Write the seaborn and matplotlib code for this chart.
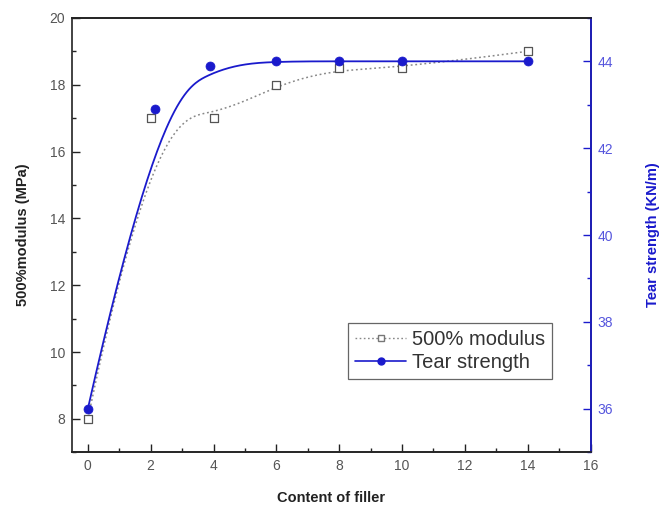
import numpy as np
import pandas as pd
import matplotlib
matplotlib.use("Agg")
import matplotlib.pyplot as plt
from matplotlib.lines import Line2D
from matplotlib.ticker import MultipleLocator
import seaborn as sns

# ---- data ----
filler_mod = [0, 2, 4, 6, 8, 10, 14]
modulus = [8.0, 17.0, 17.0, 18.0, 18.5, 18.5, 19.0]
filler_tear = [0, 2.15, 3.9, 6, 8, 10, 14]
tear = [36.0, 42.9, 43.9, 44.0, 44.0, 44.0, 44.0]

x_ticks = [0, 2, 4, 6, 8, 10, 12, 14, 16]
left_ticks = [8, 10, 12, 14, 16, 18, 20]
right_ticks = [36, 38, 40, 42, 44]

BLUE = "#1a1acc"

sns.set_theme(style="white")
plt.rcParams["font.family"] = ["Liberation Sans", "DejaVu Sans"]


def bspline(xs, ys, n=300, k=3):
    """Clamped B-spline using the data points as control points."""
    P = np.column_stack([xs, ys]).astype(float)
    m = len(P)
    inner = np.linspace(0, 1, m - k + 1)
    knots = np.concatenate([np.zeros(k), inner, np.ones(k)])
    u = np.linspace(0, 1, n)
    u[-1] = 1 - 1e-10

    def basis(i, p, t):
        if p == 0:
            return ((knots[i] <= t) & (t < knots[i + 1])).astype(float)
        a = 0.0
        d1 = knots[i + p] - knots[i]
        if d1 > 0:
            a = (t - knots[i]) / d1 * basis(i, p - 1, t)
        b = 0.0
        d2 = knots[i + p + 1] - knots[i + 1]
        if d2 > 0:
            b = (knots[i + p + 1] - t) / d2 * basis(i + 1, p - 1, t)
        return a + b

    B = np.array([basis(i, k, u) for i in range(m)])
    C = B.T @ P
    return C[:, 0], C[:, 1]


fig = plt.figure(figsize=(6.68, 5.11), dpi=100)
ax = fig.add_axes([0.108, 0.115, 0.776, 0.85])
ax2 = ax.twinx()

df_mod = pd.DataFrame({"x": filler_mod, "y": modulus})
df_tear = pd.DataFrame({"x": filler_tear, "y": tear})

cx, cy = bspline(filler_mod, modulus)
ax.plot(cx, cy, color="#888888", lw=1.1, ls=(0, (1.2, 1.8)), zorder=2)
sns.scatterplot(data=df_mod, x="x", y="y", ax=ax, marker="s", s=40,
                facecolor="white", edgecolor="#555555", linewidth=0.9, zorder=3)

tx, ty = bspline(filler_tear, tear)
ax2.plot(tx, ty, color=BLUE, lw=1.3, zorder=2)
sns.scatterplot(data=df_tear, x="x", y="y", ax=ax2, marker="o", s=42,
                color=BLUE, edgecolor=BLUE, linewidth=0.5, zorder=3)

ax.set_xlim(-0.5, 16)
ax.set_ylim(7, 20)
ax2.set_ylim(35, 45)

ax.set_xticks(x_ticks)
ax.set_yticks(left_ticks)
ax2.set_yticks(right_ticks)
ax.xaxis.set_minor_locator(MultipleLocator(1))
ax.yaxis.set_minor_locator(MultipleLocator(1))
ax2.yaxis.set_minor_locator(MultipleLocator(1))

ax.tick_params(axis="both", which="major", direction="in", length=6, width=1.0,
               labelsize=10, colors="#222222", labelcolor="#555555", pad=5)
ax.tick_params(axis="both", which="minor", direction="in", length=3, width=1.0,
               colors="#222222")
ax.tick_params(axis="x", which="both", top=False)
ax.tick_params(axis="y", which="both", right=False, left=True)
ax.tick_params(axis="x", which="both", bottom=True)
ax2.tick_params(axis="y", which="major", direction="in", length=6, width=1.0,
                labelsize=10, colors=BLUE, labelcolor="#5555dd", pad=5, right=True)
ax2.tick_params(axis="y", which="minor", direction="in", length=3, width=1.0,
                colors=BLUE, right=True)

for s in ["left", "bottom", "top"]:
    ax.spines[s].set_color("#222222")
    ax.spines[s].set_linewidth(1.2)
ax2.spines["right"].set_color(BLUE)
ax2.spines["right"].set_linewidth(1.2)
ax2.spines["left"].set_visible(False)
ax2.spines["top"].set_color("#222222")
ax2.spines["top"].set_linewidth(1.2)

ax.set_xlabel("Content of filler", fontsize=10.5, fontweight="bold",
              color="#222222", labelpad=13)
ax.set_ylabel("500%modulus (MPa)", fontsize=10.5, fontweight="bold",
              color="#222222", labelpad=14)
ax2.set_ylabel("Tear strength (KN/m)", fontsize=10.5, fontweight="bold",
               color=BLUE, labelpad=24)

handles = [
    Line2D([], [], color="#888888", ls=(0, (1.2, 1.8)), lw=1.0, marker="s",
           markersize=4, markerfacecolor="white", markeredgecolor="#777777"),
    Line2D([], [], color=BLUE, lw=1.2, marker="o", markersize=5,
           markerfacecolor=BLUE, markeredgecolor=BLUE),
]
leg = ax.legend(handles, ["500% modulus", "Tear strength"],
                loc="upper left", bbox_to_anchor=(0.533, 0.297),
                borderaxespad=0,
                fontsize=14.5, frameon=True, fancybox=False,
                edgecolor="#666666", framealpha=1, borderpad=0.35,
                handlelength=2.5, handletextpad=0.3, labelspacing=0.2)
leg.get_frame().set_linewidth(0.9)
for t in leg.get_texts():
    t.set_color("#333333")
leg.set_zorder(10)

fig.savefig("out.png", dpi=100)
